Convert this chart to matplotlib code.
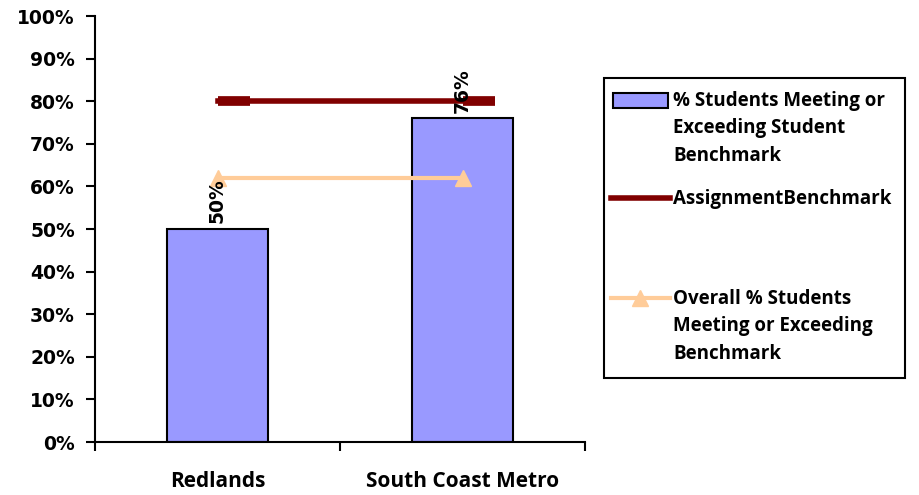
import matplotlib
matplotlib.use('Agg')
import matplotlib.pyplot as plt
from matplotlib.patches import Rectangle
from matplotlib.lines import Line2D
from matplotlib.path import Path
from matplotlib.ticker import FixedLocator, PercentFormatter

# data
sites = ['Redlands', 'South Coast Metro']
pct_meeting = [50, 76]
assignment_benchmark = [80, 80]
overall_pct = [62, 62]

bar_color = '#9999FF'
bench_color = '#800000'
overall_color = '#FFCC99'

fig = plt.figure(figsize=(9.2, 4.95), dpi=100)
ax = fig.add_axes([0.1033, 0.107, 0.5326, 0.8606])

x = list(range(len(sites)))
ax.bar(x, pct_meeting, width=0.41, color=bar_color, edgecolor='black', linewidth=1.5, zorder=2)
# dash marker that sticks out to the right of the point, like the excel one
dash = Path([(0, 0), (1, 0)], [Path.MOVETO, Path.LINETO])
ax.plot(x, assignment_benchmark, color=bench_color, linewidth=4, marker=dash,
        markersize=46, markeredgewidth=7, zorder=3)
ax.plot(x, overall_pct, color=overall_color, linewidth=3, marker='^',
        markersize=11, zorder=3)

for xi, v in zip(x, pct_meeting):
    ax.annotate('%d%%' % v, (xi, v), xytext=(0, 4), textcoords='offset points',
                rotation=90, ha='center', va='bottom', fontsize=13.5,
                fontweight='bold', family='DejaVu Sans', zorder=4)

ax.set_xlim(-0.5, 1.5)
ax.set_ylim(0, 100)
ax.set_yticks(range(0, 101, 10))
ax.yaxis.set_major_formatter(PercentFormatter(decimals=0))
ax.set_xticks(x)
ax.set_xticklabels(sites, fontsize=15, fontweight='bold', family='Open Sans')
ax.xaxis.set_minor_locator(FixedLocator([-0.5, 0.5, 1.5]))
ax.tick_params(axis='x', which='major', length=0, pad=21)
ax.tick_params(axis='x', which='minor', length=6.5, width=1.5, direction='out')
ax.tick_params(axis='y', length=6.5, width=1.5, direction='out', pad=8)
for lbl in ax.get_yticklabels():
    lbl.set_fontsize(13.5)
    lbl.set_fontweight('bold')
    lbl.set_family('DejaVu Sans')

for s in ['top', 'right']:
    ax.spines[s].set_visible(False)
for s in ['left', 'bottom']:
    ax.spines[s].set_linewidth(1.5)

# legend drawn by hand so the symbols sit on the first text line
W, H = 920.0, 495.0
def fx(px):
    return px / W
def fy(py):
    return 1 - py / H

fig.patches.append(Rectangle((fx(604), fy(378)), fx(905) - fx(604), fy(78) - fy(378),
                             transform=fig.transFigure, fill=False,
                             edgecolor='black', linewidth=1.5))
fig.patches.append(Rectangle((fx(613), fy(108)), fx(668) - fx(613), fy(93) - fy(108),
                             transform=fig.transFigure, facecolor=bar_color,
                             edgecolor='black', linewidth=1.5))
fig.lines.append(Line2D([fx(611), fx(670)], [fy(198), fy(198)], transform=fig.transFigure,
                        color=bench_color, linewidth=4))
fig.lines.append(Line2D([fx(611), fx(670)], [fy(298), fy(298)], transform=fig.transFigure,
                        color=overall_color, linewidth=3))
fig.lines.append(Line2D([fx(640)], [fy(298)], transform=fig.transFigure,
                        color=overall_color, marker='^', markersize=11, linestyle='none'))

leg_labels = ['% Students Meeting or\nExceeding Student\nBenchmark',
              'AssignmentBenchmark',
              'Overall % Students\nMeeting or Exceeding\nBenchmark']
leg_y = [91, 189, 289]
for lab, py in zip(leg_labels, leg_y):
    fig.text(fx(673), fy(py), lab, ha='left', va='top', fontsize=13.5,
             fontweight='bold', family='Open Sans', linespacing=1.5)

fig.savefig('out.png', dpi=100)
